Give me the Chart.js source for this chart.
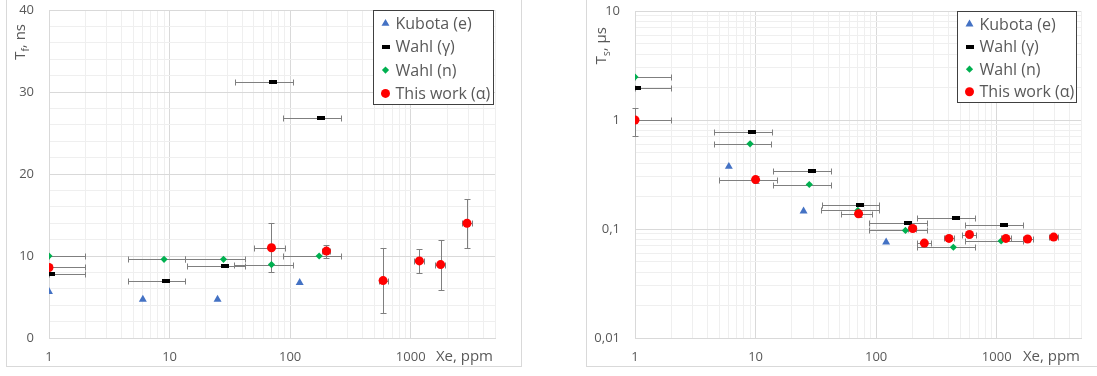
<!DOCTYPE html>
<html>
<head>
<meta charset="utf-8">
<script src="https://cdn.jsdelivr.net/npm/chart.js@4.4.1/dist/chart.umd.min.js"></script>
<style>
  body { margin: 0; background: #fff; width: 1097px; height: 376px; overflow: hidden; position: relative; }
  .frame { position: absolute; border: 1px solid #D9D9D9; box-sizing: border-box; }
  canvas { position: absolute; top: 0; }
</style>
</head>
<body>
<div class="frame" style="left:6px; top:-4px; width:516px; height:371px;"></div>
<div class="frame" style="left:586px; top:-4px; width:530px; height:371px;"></div>
<canvas id="tf-chart" width="512" height="366" style="left:8px;"></canvas>
<canvas id="ts-chart" width="508" height="366" style="left:588px;"></canvas>
<script>
// ---- tick labels ----
const xDecades = [1, 10, 100, 1000];
const xTickLabels = ['1', '10', '100', '1000'];
const tfTickValues = [0, 10, 20, 30, 40];
const tfTickLabels = ['0', '10', '20', '30', '40'];
const tsDecades = [0.01, 0.1, 1, 10];
const tsTickLabels = ['0,01', '0,1', '1', '10'];
const seriesNames = ['Kubota (e)', 'Wahl (γ)', 'Wahl (n)', 'This work (α)'];

// ---- left chart: T_f, ns ----
const tfKubotaX = [1, 6, 25, 120];
const tfKubotaY = [5.65, 4.7, 4.7, 6.75];

const tfWahlGX = [1.04, 9.3, 29, 72, 181];
const tfWahlGY = [7.85, 6.95, 8.8, 31.25, 26.8];
const tfWahlGXLo = [1, 4.5, 14, 35, 87];
const tfWahlGXHi = [2, 13.5, 42, 105, 263];

const tfWahlNX = [1, 9, 28, 70, 174];
const tfWahlNY = [10, 9.6, 9.6, 8.95, 10.0];
const tfWahlNXLo = [1, 4.5, 13.5, 34.5, 87];
const tfWahlNXHi = [2, 13.5, 42, 105, 262];

const tfWorkX = [1, 70, 200, 590, 1180, 1770, 2930];
const tfWorkY = [8.6, 11.0, 10.6, 7.0, 9.4, 8.95, 14.0];
const tfWorkXLo = [1, 50, 185, 548, 1055, 1600, 2660];
const tfWorkXHi = [2, 91, 215, 654, 1277, 1930, 3220];
const tfWorkYLo = [null, 8, 9.8, 3, 7.9, 5.9, 11];
const tfWorkYHi = [null, 14, 11.4, 11, 10.9, 12, 17];

// ---- right chart: T_s, µs ----
const tsKubotaX = [6, 25, 121];
const tsKubotaY = [0.374, 0.146, 0.0758];

const tsWahlGX = [1.04, 9.4, 29.4, 73.8, 182, 457, 1145];
const tsWahlGY = [1.96, 0.77, 0.343, 0.167, 0.1136, 0.126, 0.109];
const tsWahlGXLo = [1, 4.5, 13.9, 35.6, 87.7, 220, 550];
const tsWahlGXHi = [2, 13.6, 42.4, 106, 264, 661, 1657];

const tsWahlNX = [1, 9, 27.9, 70.5, 175, 437, 1088];
const tsWahlNY = [2.48, 0.605, 0.256, 0.148, 0.097, 0.068, 0.0776];
const tsWahlNXLo = [1, 4.5, 13.9, 35, 87, 220, 550];
const tsWahlNXHi = [2, 13.5, 42, 105, 264, 661, 1650];

const tsWorkX = [1, 10, 71.5, 201, 251, 402, 594, 1191, 1803, 2966];
const tsWorkY = [1.0, 0.284, 0.138, 0.101, 0.0743, 0.082, 0.089, 0.082, 0.081, 0.0843];
const tsWorkXLo = [1, 5, 51, 185, 217, 365, 519, 1082, 1638, 2693];
const tsWorkXHi = [2, 15, 91.6, 215, 285, 443, 674, 1310, 2010, 3240];
const tsWorkYLo = [0.72, 0.265, 0.128, 0.096, null, null, null, null, null, null];
const tsWorkYHi = [1.29, 0.305, 0.148, 0.106, null, null, null, null, null, null];

// ---- helpers ----
const TEXT = '#595959';
const GRID_MAJOR = '#D9D9D9';
const GRID_MINOR = '#EFEFEF';
Chart.defaults.font.family = "'Open Sans', sans-serif";

function points(xs, ys) {
  return xs.map((x, i) => ({x: x, y: ys[i]}));
}

function logGrid(min, max) {
  let out = [];
  for (let d = min; d <= max; d *= 10) {
    for (let k = 1; k <= 9; k++) {
      let v = parseFloat((k * d).toPrecision(6));
      if (v <= max * 1.0001) out.push(v);
    }
  }
  return out;
}

function labelFor(v, values, labels) {
  for (let i = 0; i < values.length; i++) {
    if (Math.abs(v - values[i]) < values[i] * 1e-6 + 1e-12) return labels[i];
  }
  return '';
}

function isIn(v, values) {
  return labelFor(v, values, values.map(() => 'y')) !== '';
}

// black dash marker for Wahl (γ)
const dash = document.createElement('canvas');
dash.width = 8; dash.height = 4;
dash.getContext('2d').fillRect(0, 0, 8, 4);

function makeDatasets(k, g, n, w) {
  return [
    { label: seriesNames[0], data: k, pointStyle: 'triangle', pointRadius: 4.6,
      backgroundColor: '#4472C4', borderColor: '#4472C4', borderWidth: 0, order: 3 },
    { label: seriesNames[1], data: g.data, errorBars: g.err, pointStyle: dash, pointRadius: 4,
      backgroundColor: '#000', borderColor: '#000', borderWidth: 0, order: 2 },
    { label: seriesNames[2], data: n.data, errorBars: n.err, pointStyle: 'rectRot', pointRadius: 3.6,
      backgroundColor: '#00B050', borderColor: '#00B050', borderWidth: 0, order: 1 },
    { label: seriesNames[3], data: w.data, errorBars: w.err, pointStyle: 'circle', pointRadius: 4.5,
      backgroundColor: '#FF0000', borderColor: '#FF0000', borderWidth: 0, order: 0 }
  ];
}

// error bars, legend box and axis titles
const extras = {
  id: 'extras',
  beforeDatasetsDraw(chart) {
    const ctx = chart.ctx, xs = chart.scales.x, ys = chart.scales.y;
    const cap = 3;
    ctx.save();
    ctx.strokeStyle = '#7F7F7F';
    ctx.lineWidth = 1;
    chart.data.datasets.forEach(ds => {
      const e = ds.errorBars;
      if (!e) return;
      ds.data.forEach((p, i) => {
        const px = Math.round(xs.getPixelForValue(p.x)) + 0.5;
        const py = Math.round(ys.getPixelForValue(p.y)) + 0.5;
        ctx.beginPath();
        if (e.xLo && e.xLo[i] != null) {
          const a = Math.round(xs.getPixelForValue(e.xLo[i])) + 0.5;
          const b = Math.round(xs.getPixelForValue(e.xHi[i])) + 0.5;
          ctx.moveTo(a, py); ctx.lineTo(b, py);
          ctx.moveTo(a, py - cap); ctx.lineTo(a, py + cap);
          ctx.moveTo(b, py - cap); ctx.lineTo(b, py + cap);
        }
        if (e.yLo && e.yLo[i] != null) {
          const a = Math.round(ys.getPixelForValue(e.yLo[i])) + 0.5;
          const b = Math.round(ys.getPixelForValue(e.yHi[i])) + 0.5;
          ctx.moveTo(px, a); ctx.lineTo(px, b);
          ctx.moveTo(px - cap, a); ctx.lineTo(px + cap, a);
          ctx.moveTo(px - cap, b); ctx.lineTo(px + cap, b);
        }
        ctx.stroke();
      });
    });
    ctx.restore();
  },
  afterDraw(chart, args, opts) {
    const ctx = chart.ctx, ca = chart.chartArea;
    ctx.save();

    // legend box
    const L = opts.legend;
    const x0 = Math.round(ca.right - L.right - L.width) + 0.5;
    const y0 = Math.round(ca.top + L.top) + 0.5;
    ctx.fillStyle = '#fff';
    ctx.fillRect(x0, y0, L.width, L.height);
    ctx.strokeStyle = '#404040';
    ctx.lineWidth = 1;
    ctx.strokeRect(x0, y0, L.width, L.height);
    ctx.font = L.font + "px 'Open Sans', sans-serif";
    ctx.textBaseline = 'middle';
    ctx.textAlign = 'left';
    chart.data.datasets.forEach((ds, i) => {
      const cy = y0 + L.rowTop + i * L.rowH;
      ctx.fillStyle = ds.backgroundColor;
      Chart.helpers.drawPoint(ctx, {pointStyle: ds.pointStyle, radius: ds.pointRadius, borderWidth: 0, rotation: 0}, x0 + 12, cy);
      ctx.fillStyle = TEXT;
      ctx.fillText(ds.label, x0 + 22, cy + 1);
    });

    // x axis title, on the tick label line
    ctx.fillStyle = TEXT;
    ctx.textAlign = 'right';
    ctx.font = "15px 'Open Sans', sans-serif";
    ctx.fillText(opts.xTitle, ca.right - opts.xTitleInset, ca.bottom + 19);

    // y axis title with subscript, rotated
    const parts = opts.yTitle;
    let total = 0;
    parts.forEach(p => { ctx.font = p.size + "px 'Open Sans', sans-serif"; total += ctx.measureText(p.t).width; });
    ctx.translate(opts.yTitleX, opts.yTitleTop + total);
    ctx.rotate(-Math.PI / 2);
    ctx.textAlign = 'left';
    ctx.textBaseline = 'alphabetic';
    let cx = 0;
    parts.forEach(p => {
      ctx.font = p.size + "px 'Open Sans', sans-serif";
      ctx.fillText(p.t, cx, p.dy);
      cx += ctx.measureText(p.t).width;
    });
    ctx.restore();
  }
};

function axisX() {
  const grid = logGrid(1, 5000);
  return {
    type: 'logarithmic', min: 1, max: 5000,
    afterBuildTicks: s => { s.ticks = grid.map(v => ({value: v})); },
    afterFit: s => { s.height = 28; s.paddingLeft = 0; s.paddingRight = 0; },
    ticks: { autoSkip: false, maxRotation: 0, minRotation: 0, padding: 11, color: TEXT, font: {size: 13},
      callback: v => labelFor(v, xDecades, xTickLabels) },
    grid: { drawTicks: false, color: c => isIn(c.tick.value, xDecades) ? GRID_MAJOR : GRID_MINOR },
    border: { color: GRID_MAJOR }
  };
}

function createChart(cfg) {
  const ctx = document.getElementById(cfg.target).getContext('2d');
  return new Chart(ctx, {
    type: 'scatter',
    data: { datasets: cfg.datasets },
    options: {
      responsive: false,
      animation: false,
      layout: { padding: cfg.padding },
      plugins: { legend: { display: false }, tooltip: { enabled: false }, extras: cfg.extras },
      scales: { x: axisX(), y: cfg.yAxis }
    },
    plugins: [extras]
  });
}

// left chart
const tfGrid = [];
for (let v = 0; v <= 40; v += 2) tfGrid.push(v);

createChart({
  target: 'tf-chart',
  padding: { top: 10, right: 25, left: 0, bottom: 0 },
  datasets: makeDatasets(
    points(tfKubotaX, tfKubotaY),
    { data: points(tfWahlGX, tfWahlGY), err: { xLo: tfWahlGXLo, xHi: tfWahlGXHi } },
    { data: points(tfWahlNX, tfWahlNY), err: { xLo: tfWahlNXLo, xHi: tfWahlNXHi } },
    { data: points(tfWorkX, tfWorkY), err: { xLo: tfWorkXLo, xHi: tfWorkXHi, yLo: tfWorkYLo, yHi: tfWorkYHi } }
  ),
  yAxis: {
    type: 'linear', min: 0, max: 40,
    afterBuildTicks: s => { s.ticks = tfGrid.map(v => ({value: v})); },
    afterFit: s => { s.width = 41; s.paddingTop = 0; s.paddingBottom = 0; },
    ticks: { autoSkip: false, padding: 15, color: TEXT, font: {size: 13},
      callback: v => labelFor(v, tfTickValues, tfTickLabels) },
    grid: { drawTicks: false, color: c => isIn(c.tick.value, tfTickValues) ? GRID_MAJOR : GRID_MINOR },
    border: { color: GRID_MAJOR }
  },
  extras: {
    legend: { right: 2, top: 0, width: 120, height: 94, rowTop: 13, rowH: 23.3, font: 16 },
    xTitle: 'Xe, ppm', xTitleInset: 2,
    yTitle: [{t: 'T', size: 15, dy: 0}, {t: 'f', size: 10, dy: 4}, {t: ', ns', size: 15, dy: 0}],
    yTitleX: 17, yTitleTop: 24
  }
});

// right chart
const tsGrid = logGrid(0.01, 10);

createChart({
  target: 'ts-chart',
  padding: { top: 11, right: 15, left: 0, bottom: 0 },
  datasets: makeDatasets(
    points(tsKubotaX, tsKubotaY),
    { data: points(tsWahlGX, tsWahlGY), err: { xLo: tsWahlGXLo, xHi: tsWahlGXHi } },
    { data: points(tsWahlNX, tsWahlNY), err: { xLo: tsWahlNXLo, xHi: tsWahlNXHi } },
    { data: points(tsWorkX, tsWorkY), err: { xLo: tsWorkXLo, xHi: tsWorkXHi, yLo: tsWorkYLo, yHi: tsWorkYHi } }
  ),
  yAxis: {
    type: 'logarithmic', min: 0.01, max: 10,
    afterBuildTicks: s => { s.ticks = tsGrid.map(v => ({value: v})); },
    afterFit: s => { s.width = 47; s.paddingTop = 0; s.paddingBottom = 0; },
    ticks: { autoSkip: false, padding: 15, color: TEXT, font: {size: 13},
      callback: v => labelFor(v, tsDecades, tsTickLabels) },
    grid: { drawTicks: false, color: c => isIn(c.tick.value, tsDecades) ? GRID_MAJOR : GRID_MINOR },
    border: { color: GRID_MAJOR }
  },
  extras: {
    legend: { right: 5, top: 0, width: 119, height: 91, rowTop: 12.7, rowH: 22.5, font: 16 },
    xTitle: 'Xe, ppm', xTitleInset: 1,
    yTitle: [{t: 'T', size: 15, dy: 0}, {t: 's', size: 10, dy: 4}, {t: ', µs', size: 15, dy: 0}],
    yTitleX: 18, yTitleTop: 27
  }
});
</script>
</body>
</html>
